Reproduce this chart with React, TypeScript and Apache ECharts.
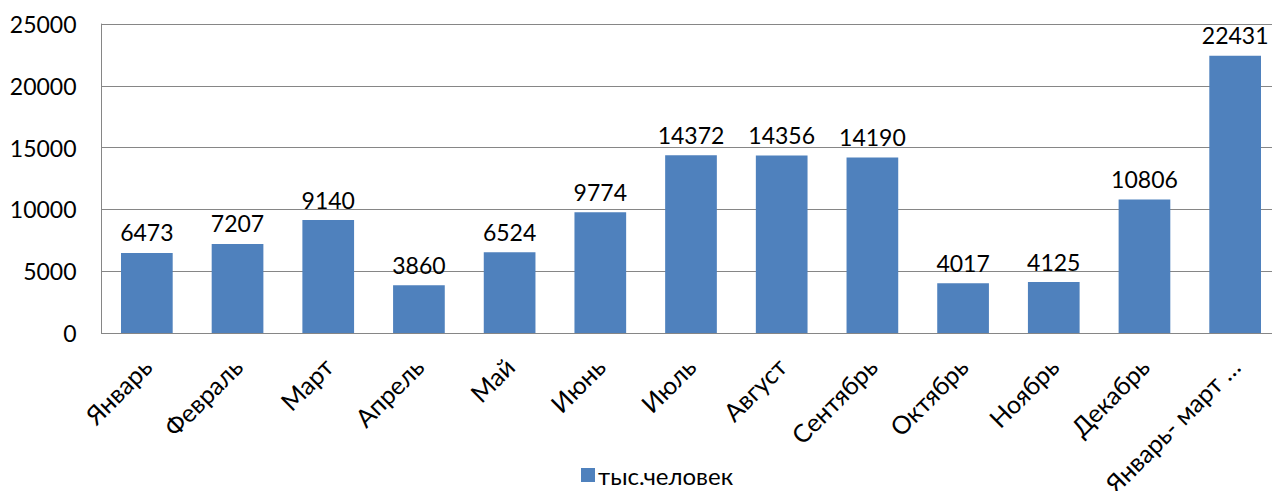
import React, { useEffect, useRef } from "react";
import * as echarts from "echarts";

const categories = ["Январь", "Февраль", "Март", "Апрель", "Май", "Июнь", "Июль", "Август", "Сентябрь", "Октябрь", "Ноябрь", "Декабрь", "Январь- март …"];
const values = [6473, 7207, 9140, 3860, 6524, 9774, 14372, 14356, 14190, 4017, 4125, 10806, 22431];
const seriesName = "тыс.человек";

export default function App() {
  const ref = useRef<HTMLDivElement>(null);
  useEffect(() => {
    document.body.style.margin = "0";
    const chart = echarts.init(ref.current!, null, { renderer: "svg" });
    const font = "Lato, 'Open Sans', sans-serif";
    chart.setOption({
      animation: false,
      textStyle: { fontFamily: font },
      grid: { left: 101.5, top: 24, width: 1179, bottom: 158, outerBoundsMode: "none", containLabel: false },
      legend: {
        bottom: -1,
        left: 576,
        itemWidth: 14,
        itemHeight: 14,
        itemGap: 8,
        icon: "rect",
        textStyle: { fontSize: 24, color: "#000", fontFamily: font, padding: [0, 0, 0, -2] },
        data: [seriesName],
      },
      xAxis: {
        type: "category",
        data: categories,
        axisLine: { lineStyle: { color: "#868686" } },
        axisTick: { show: false },
        axisLabel: { rotate: 45, fontSize: 25, color: "#000", margin: 29, interval: 0, fontFamily: font },
      },
      yAxis: {
        type: "value",
        min: 0,
        max: 25000,
        interval: 5000,
        axisLine: { show: true, lineStyle: { color: "#868686" } },
        axisTick: { show: false },
        splitLine: { lineStyle: { color: "#868686" } },
        axisLabel: { fontSize: 23, color: "#000", margin: 25, fontFamily: font, formatter: (v: number) => String(v) },
      },
      series: [
        {
          name: seriesName,
          type: "bar",
          data: values,
          barWidth: "57%",
          itemStyle: { color: "#4F81BD" },
          label: { show: true, position: "top", distance: 9, fontSize: 23, color: "#000", fontFamily: font },
        },
      ],
    });
    return () => chart.dispose();
  }, []);
  return <div ref={ref} style={{ width: 1272, height: 491 }} />;
}
